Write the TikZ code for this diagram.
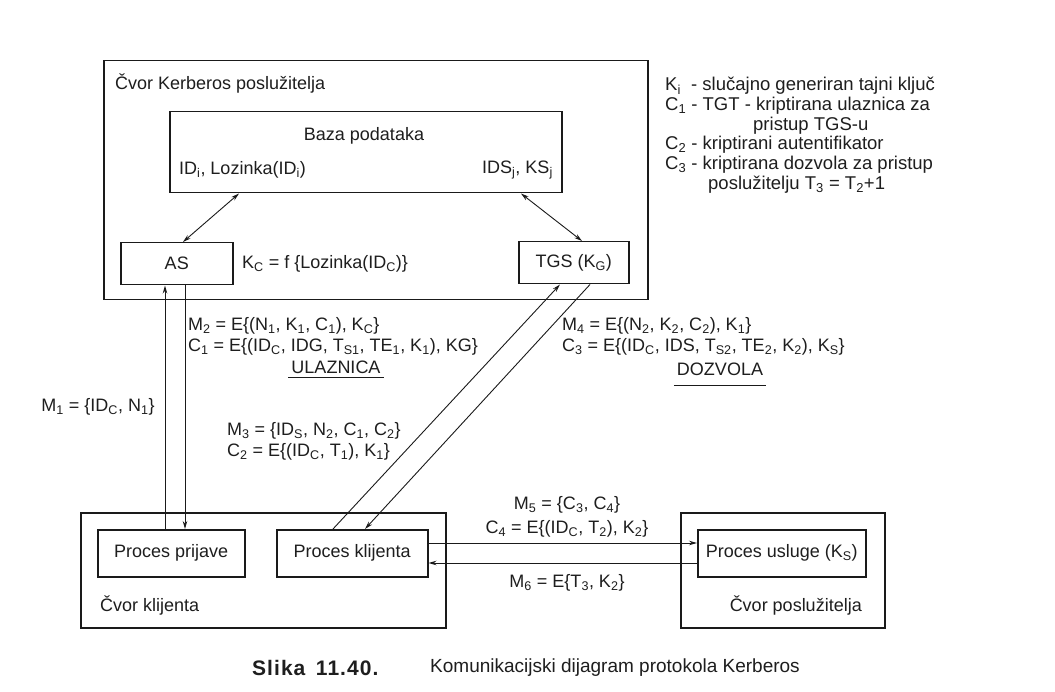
\documentclass[tikz,border=0pt]{standalone}
\usepackage{fontspec}
\setmainfont{Liberation Sans}
\usetikzlibrary{arrows.meta,calc}
\definecolor{ink}{HTML}{1A1A1A}
\definecolor{txt}{HTML}{1E1E1E}
\newcommand{\sbs}[1]{\textsubscript{#1}}
\begin{document}
\begin{tikzpicture}[x=1pt,y=-1pt,
  bx/.style={draw=ink, line width=1.5pt, anchor=north west, inner sep=0pt, text=txt, font=\fontsize{18}{20}\selectfont},
  lbl/.style={text=txt, inner sep=0pt, font=\fontsize{18}{20}\selectfont},
  lg/.style={lbl, anchor=west},
  leg/.style={lg, font=\fontsize{18.5}{20}\selectfont},
  con/.style={draw=ink, line width=0.9pt},
  arr/.style={con, -{Stealth[length=8pt,width=4.5pt]}},
  dbl/.style={con, {Stealth[length=8pt,width=4.5pt]}-{Stealth[length=8pt,width=4.5pt]}},
  ulin/.style={draw=ink, line width=1.6pt}]
\useasboundingbox[fill=white] (0,0) rectangle (1055,692);

% boxes
\node[bx, minimum width=544pt, minimum height=239pt] (ker) at (103,60) {};
\node[bx, minimum width=392pt, minimum height=81pt] (baza) at (169,111) {};
\node[bx, minimum width=112pt, minimum height=42pt] (as) at (120,242) {AS};
\node[bx, minimum width=110pt, minimum height=42pt] (tgs) at (518,241) {TGS (K\sbs{G})};
\node[bx, minimum width=365pt, minimum height=115pt] (cli) at (80,512) {};
\node[bx, minimum width=147pt, minimum height=47pt] (pp) at (97,529) {Proces prijave};
\node[bx, minimum width=151pt, minimum height=47pt] (pk) at (276,529) {Proces klijenta};
\node[bx, minimum width=204pt, minimum height=115pt] (srv) at (680,512) {};
\node[bx, minimum width=168pt, minimum height=47pt] (pu) at (697,529) {Proces usluge (K\sbs{S})};

% box labels
\node[lg] (kerl) at (115,84) {Čvor Kerberos poslužitelja};
\node[lbl] (bazal) at (364,136) {Baza podataka};
\node[lg] (idl) at (179,170) {ID\sbs{i}, Lozinka(ID\sbs{i})};
\node[lbl, anchor=east] (idsl) at (553,170) {IDS\sbs{j}, KS\sbs{j}};
\node[lg] (kc) at (242,264) {K\sbs{C} = f \{Lozinka(ID\sbs{C})\}};
\node[lg] (clil) at (100,605) {Čvor klijenta};
\node[lbl, anchor=east] (srvl) at (862,605) {Čvor poslužitelja};

% legend
\node[leg] (lg1) at (665,86) {K\sbs{i}\ \ - slučajno generiran tajni ključ};
\node[leg] (lg2) at (665,106) {C\sbs{1} - TGT - kriptirana ulaznica za};
\node[leg] (lg3) at (753,126) {pristup TGS-u};
\node[leg] (lg4) at (665,145) {C\sbs{2} - kriptirani autentifikator};
\node[leg] (lg5) at (665,165) {C\sbs{3} - kriptirana dozvola za pristup};
\node[leg] (lg6) at (708,185) {poslužitelju T\sbs{3} = T\sbs{2}+1};

% messages
\node[lbl] (m1) at (98,407) {M\sbs{1} = \{ID\sbs{C}, N\sbs{1}\}};
\node[lg] (m2) at (188,326) {M\sbs{2} = E\{(N\sbs{1}, K\sbs{1}, C\sbs{1}), K\sbs{C}\}};
\node[lg] (c1) at (188,347) {C\sbs{1} = E\{(ID\sbs{C}, IDG, T\sbs{S1}, TE\sbs{1}, K\sbs{1}), KG\}};
\node[lbl] (ul) at (336,367) {ULAZNICA};
\node[lg] (m3) at (227,431) {M\sbs{3} = \{ID\sbs{S}, N\sbs{2}, C\sbs{1}, C\sbs{2}\}};
\node[lg] (c2) at (227,452) {C\sbs{2} = E\{(ID\sbs{C}, T\sbs{1}), K\sbs{1}\}};
\node[lg] (m4) at (562,326) {M\sbs{4} = E\{(N\sbs{2}, K\sbs{2}, C\sbs{2}), K\sbs{1}\}};
\node[lg] (c3) at (562,347) {C\sbs{3} = E\{(ID\sbs{C}, IDS, T\sbs{S2}, TE\sbs{2}, K\sbs{2}), K\sbs{S}\}};
\node[lbl] (dz) at (720,369) {DOZVOLA};
\node[lbl] (m5) at (567,505) {M\sbs{5} = \{C\sbs{3}, C\sbs{4}\}};
\node[lbl] (c4) at (567,529) {C\sbs{4} = E\{(ID\sbs{C}, T\sbs{2}), K\sbs{2}\}};
\node[lbl] (m6) at (567,583) {M\sbs{6} = E\{T\sbs{3}, K\sbs{2}\}};

\draw[ulin] ([xshift=-3pt,yshift=-4pt]ul.south west) -- ([xshift=3pt,yshift=-4pt]ul.south east);
\draw[ulin] ([xshift=-3pt,yshift=-10pt]dz.south west) -- ([xshift=3pt,yshift=-10pt]dz.south east);

% connectors
\draw[dbl] ([xshift=70pt]baza.south west) -- ([xshift=63pt]as.north west);
\draw[dbl] ([xshift=352pt]baza.south west) -- ([xshift=64pt]tgs.north west);
\draw[arr] ([xshift=68pt]pp.north west) -- ([xshift=45pt]as.south west);
\draw[arr] ([xshift=65pt]as.south west) -- ([xshift=88pt]pp.north west);
\draw[arr] ([xshift=57pt]pk.north west) -- ([xshift=42pt]tgs.south west);
\draw[arr] ([xshift=72pt]tgs.south west) -- ([xshift=89pt]pk.north west);
\draw[arr] ([yshift=-14pt]pk.north east) -- ([yshift=-14pt]pu.north west);
\draw[arr] ([yshift=-34pt]pu.north west) -- ([yshift=-34pt]pk.north east);

% caption
\node[lg, font=\fontsize{21}{23}\selectfont\bfseries\addfontfeature{LetterSpace=5}] (cap1) at (252,668) {Slika\hspace{0.5em}11.40.};
\node[lg, font=\fontsize{19}{21}\selectfont] (cap2) at (430,668) {Komunikacijski dijagram protokola Kerberos};
\end{tikzpicture}
\end{document}
